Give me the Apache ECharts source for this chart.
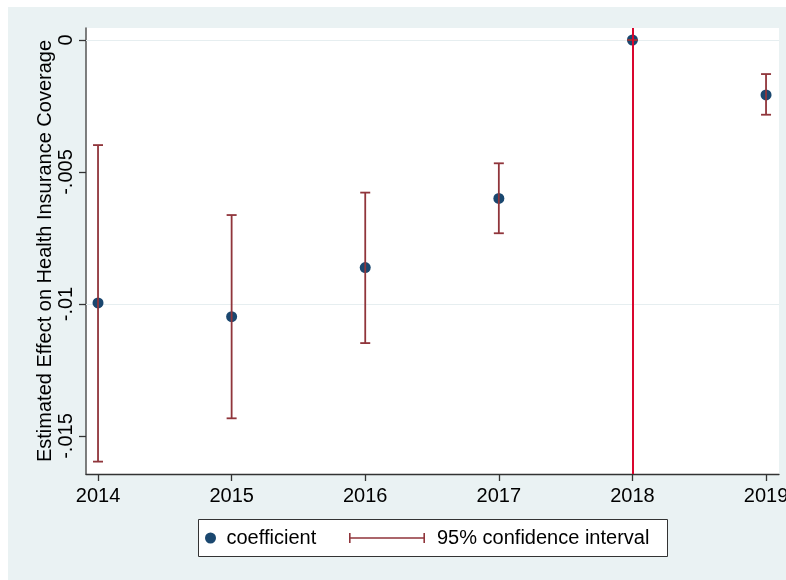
<!DOCTYPE html>
<html>
<head>
<meta charset="utf-8">
<script src="https://cdn.jsdelivr.net/npm/echarts@6/dist/echarts.min.js"></script>
<style>
html,body{margin:0;padding:0;background:#ffffff;}
#bg{position:absolute;left:8px;top:7px;width:778px;height:573px;background:#eaf2f3;}
#main{position:absolute;left:0;top:0;width:786px;height:580px;}
</style>
</head>
<body>
<div id="bg"></div>
<div id="main"></div>
<script>
const years = [2014, 2015, 2016, 2017, 2018, 2019];
const coef = [-0.00996, -0.01048, -0.00862, -0.00600, 0, -0.00208];
const ciLow = [-0.01597, -0.01433, -0.01148, -0.00732, 0, -0.00283];
const ciHigh = [-0.00398, -0.00663, -0.00578, -0.00467, 0, -0.00129];
const yTicks = [0, -0.005, -0.01, -0.015];
const yTickLabels = ['0', '-.005', '-.01', '-.015'];
const xTicks = [2014, 2015, 2016, 2017, 2018, 2019];
const refYear = 2018;

const FONT = "'Liberation Sans', Arial, Helvetica, sans-serif";
const NAVY = '#1a476f';
const MAROON = '#90353b';

const chart = echarts.init(document.getElementById('main'), null, {renderer: 'canvas'});

const option = {
  backgroundColor: 'transparent',
  animation: false,
  textStyle: {fontFamily: FONT},
  grid: {
    left: 86, right: 7, top: 28, bottom: 106,
    outerBoundsMode: 'none', containLabel: false,
    show: true, backgroundColor: '#ffffff', borderWidth: 0
  },
  graphic: [{
    type: 'rect', left: 198, top: 519, z: 0,
    shape: {width: 469, height: 37},
    style: {fill: '#ffffff', stroke: '#333333', lineWidth: 1}
  }],
  legend: [{
    data: [{name: 'coefficient', icon: 'circle', itemStyle: {color: NAVY}}],
    left: 205, top: 528, padding: 0, itemWidth: 22, itemHeight: 11,
    textStyle: {fontFamily: FONT, fontSize: 20, color: '#000'},
    selectedMode: false, z: 5
  }, {
    data: [{name: '95% confidence interval',
      icon: 'path://M0,0h1.6v10h-1.6z M1.6,4.2h72.8v1.6h-72.8z M74.4,0h1.6v10h-1.6z',
      itemStyle: {color: MAROON}}],
    left: 349, top: 528, padding: 0, itemWidth: 76, itemHeight: 10,
    textStyle: {fontFamily: FONT, fontSize: 20, color: '#000', padding: [0, 0, 0, 7]},
    selectedMode: false, z: 5
  }],
  xAxis: {
    type: 'value', min: 2013.91, max: 2019.097,
    axisLine: {show: true, onZero: false, lineStyle: {color: '#333', width: 1.3}},
    axisTick: {show: true, length: 7, customValues: xTicks, lineStyle: {color: '#333', width: 1.3}},
    axisLabel: {customValues: xTicks, margin: 12, fontSize: 20, color: '#000', fontFamily: FONT,
      hideOverlap: false, formatter: v => String(Math.round(v))},
    splitLine: {show: false}
  },
  yAxis: {
    type: 'value', min: -0.016439, max: 0.000455,
    name: 'Estimated Effect on Health Insurance Coverage',
    nameLocation: 'middle', nameRotate: 90, nameGap: 31, nameMoveOverlap: false,
    nameTextStyle: {fontSize: 20, color: '#000', fontFamily: FONT},
    axisLine: {show: true, onZero: false, lineStyle: {color: '#555', width: 1.5}},
    axisTick: {show: true, length: 7, customValues: yTicks, lineStyle: {color: '#333', width: 1.3}},
    axisLabel: {customValues: yTicks, rotate: 90, margin: 10, fontSize: 20, color: '#000', fontFamily: FONT,
      formatter: v => {
        const i = yTicks.findIndex(t => Math.abs(t - v) < 1e-9);
        return i >= 0 ? yTickLabels[i] : '';
      }},
    splitLine: {show: false}
  },
  series: [{
    name: 'coefficient',
    type: 'scatter',
    symbol: 'circle', symbolSize: 11,
    itemStyle: {color: NAVY, opacity: 1},
    z: 2,
    data: years.map((y, i) => [y, coef[i]]),
    markLine: {
      silent: true, symbol: 'none', z: 1, animation: false,
      label: {show: false},
      lineStyle: {color: '#e6eef0', width: 1.2, type: 'solid'},
      emphasis: {disabled: true},
      data: yTicks.map(t => ({yAxis: t}))
    }
  }, {
    name: '95% confidence interval',
    type: 'custom',
    z: 3,
    itemStyle: {color: MAROON},
    data: years.map((y, i) => [y, ciLow[i], ciHigh[i]]),
    renderItem: function (params, api) {
      const x = api.value(0);
      const lo = api.coord([x, api.value(1)]);
      const hi = api.coord([x, api.value(2)]);
      const hw = 5;
      const st = {stroke: MAROON, lineWidth: 1.8};
      return {
        type: 'group',
        children: [
          {type: 'line', shape: {x1: lo[0], y1: lo[1], x2: hi[0], y2: hi[1]}, style: st},
          {type: 'line', shape: {x1: lo[0] - hw, y1: lo[1], x2: lo[0] + hw, y2: lo[1]}, style: st},
          {type: 'line', shape: {x1: hi[0] - hw, y1: hi[1], x2: hi[0] + hw, y2: hi[1]}, style: st}
        ]
      };
    },
    markLine: {
      silent: true, symbol: 'none', animation: false,
      label: {show: false},
      lineStyle: {color: '#d9062e', width: 2, type: 'solid'},
      emphasis: {disabled: true},
      data: [{xAxis: refYear}]
    }
  }]
};
chart.setOption(option);
</script>
</body>
</html>
